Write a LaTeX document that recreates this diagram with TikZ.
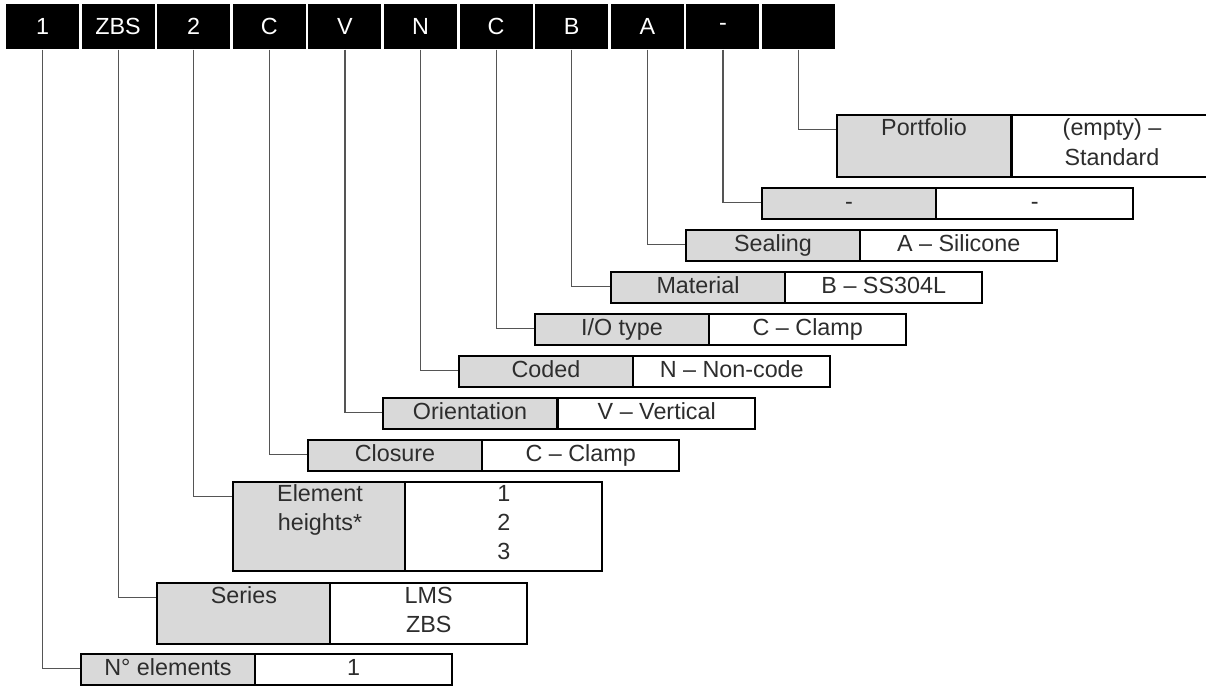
\documentclass[tikz,border=0pt]{standalone}
\usepackage{fontspec}
\setmainfont{Liberation Sans}
\newcommand{\rowstrut}{\rule[-6pt]{0pt}{22pt}}

\tikzset{every picture/.style={line width=0.75pt}}
\tikzset{
  codebox/.style={fill=black,text=white,minimum width=54.75pt,minimum height=33.75pt,inner sep=0pt,font=\fontsize{17.5}{22}\selectfont},
  keybox/.style={draw=black,line width=1.5pt,fill={rgb,255:red,217;green,217;blue,217},anchor=north west,minimum width=130.5pt,minimum height=22.9pt,inner sep=0pt,align=center,text={rgb,255:red,45;green,45;blue,45},font=\fontsize{17.5}{22}\selectfont,execute at begin node=\rowstrut},
  valbox/.style={keybox,fill=white,minimum width=148.1pt},
  link/.style={draw={rgb,255:red,85;green,85;blue,85},line width=0.9pt}
}

\begin{document}
\begin{tikzpicture}[x=0.75pt,y=0.75pt,yscale=-1,xscale=1]
\useasboundingbox (0,0) rectangle (1206,687);

%Code fields
\node[codebox] (cnum) at (42.5,26.5) {1};
\node[codebox] (cser) at (118.1,26.5) {ZBS};
\node[codebox] (chgt) at (193.7,26.5) {2};
\node[codebox] (ccls) at (269.3,26.5) {C};
\node[codebox] (cori) at (344.9,26.5) {V};
\node[codebox] (ccod) at (420.5,26.5) {N};
\node[codebox] (cio) at (496.1,26.5) {C};
\node[codebox] (cmat) at (571.7,26.5) {B};
\node[codebox] (cseal) at (647.3,26.5) {A};
\node[codebox] (cdash) at (722.9,26.5) {-};
\node[codebox] (cport) at (798.5,26.5) {};

%Portfolio
\node[keybox,minimum height=46.5pt] (kport) at (836,114) {Portfolio\\\rowstrut};
\node[valbox,minimum height=46.5pt,minimum width=150pt] (vport) at (1011,114) {(empty) –\\Standard\rowstrut};
%Dash
\node[keybox] (kdash) at (761,187) {-};
\node[valbox] (vdash) at (935,187) {-};
%Sealing
\node[keybox] (kseal) at (685,229) {Sealing};
\node[valbox] (vseal) at (859,229) {A – Silicone};
%Material
\node[keybox] (kmat) at (610,271) {Material};
\node[valbox] (vmat) at (784,271) {B – SS304L};
%I/O type
\node[keybox] (kio) at (534,313) {I/O type};
\node[valbox] (vio) at (708,313) {C – Clamp};
%Coded
\node[keybox] (kcod) at (458,355) {Coded};
\node[valbox] (vcod) at (632,355) {N – Non-code};
%Orientation
\node[keybox] (kori) at (382,397) {Orientation};
\node[valbox] (vori) at (557,397) {V – Vertical};
%Closure
\node[keybox] (kcls) at (307,439) {Closure};
\node[valbox] (vcls) at (481,439) {C – Clamp};
%Element heights
\node[keybox,minimum height=66.75pt] (khgt) at (232,481) {Element\\heights*\rowstrut\\\rowstrut};
\node[valbox,minimum height=66.75pt] (vhgt) at (404,481) {1\\2\rowstrut\\3\rowstrut};
%Series
\node[keybox,minimum height=46.1pt] (kser) at (156,582) {Series\\\rowstrut};
\node[valbox,minimum height=46.1pt] (vser) at (329,582) {LMS\\ZBS\rowstrut};
%N elements
\node[keybox] (knum) at (80,653) {N° elements};
\node[valbox] (vnum) at (254,653) {1};

%Straight Lines
\draw[link] (cport.south) |- ([yshift=11.9pt]kport.north west);
\draw[link] (cdash.south) |- ([yshift=11.4pt]kdash.north west);
\draw[link] (cseal.south) |- ([yshift=11.4pt]kseal.north west);
\draw[link] (cmat.south) |- ([yshift=11.4pt]kmat.north west);
\draw[link] (cio.south) |- ([yshift=11.4pt]kio.north west);
\draw[link] (ccod.south) |- ([yshift=11.4pt]kcod.north west);
\draw[link] (cori.south) |- ([yshift=11.4pt]kori.north west);
\draw[link] (ccls.south) |- ([yshift=11.4pt]kcls.north west);
\draw[link] (chgt.south) |- ([yshift=11.4pt]khgt.north west);
\draw[link] (cser.south) |- ([yshift=11.4pt]kser.north west);
\draw[link] (cnum.south) |- ([yshift=11.4pt]knum.north west);

\end{tikzpicture}
\end{document}
